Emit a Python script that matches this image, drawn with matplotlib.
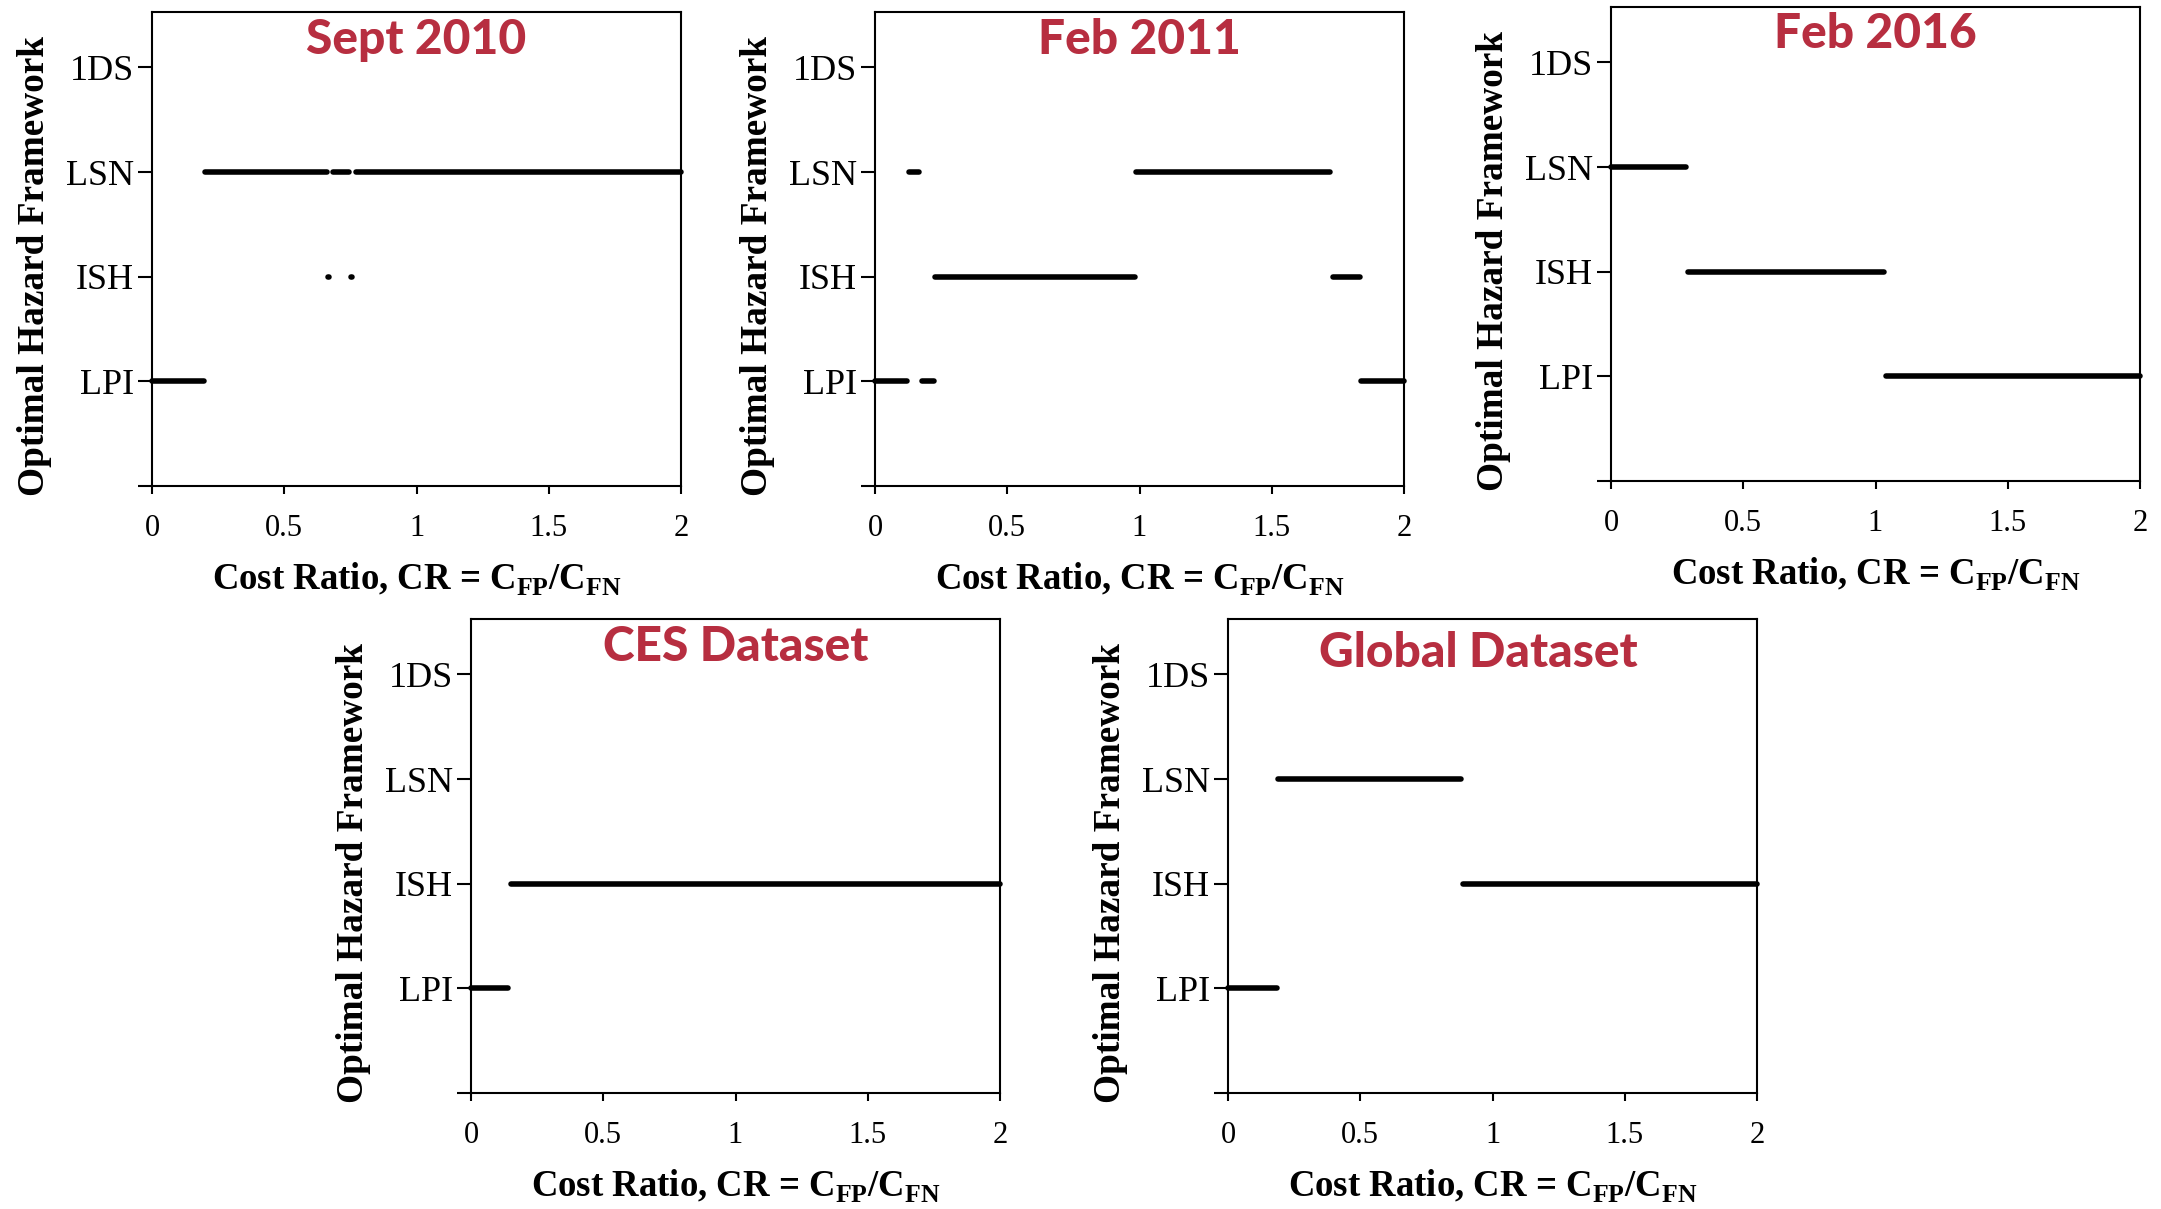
import matplotlib
matplotlib.use("Agg")
import matplotlib.pyplot as plt

# ---------------- data ----------------
categories = ["LPI", "ISH", "LSN", "1DS"]
panel_titles = ["Sept 2010", "Feb 2011", "Feb 2016", "CES Dataset", "Global Dataset"]
x_ticks = [0, 0.5, 1, 1.5, 2]
x_tick_labels = ["0", "0.5", "1", "1.5", "2"]

# segments (start, end) of CR over which each framework is optimal
sept2010_LPI = [(0.0, 0.197)]
sept2010_ISH = [(0.667, 0.671), (0.754, 0.758)]
sept2010_LSN = [(0.20, 0.66), (0.683, 0.744), (0.77, 2.0)]
sept2010_1DS = []

feb2011_LPI = [(0.0, 0.122), (0.179, 0.223), (1.838, 2.0)]
feb2011_ISH = [(0.226, 0.983), (1.73, 1.835)]
feb2011_LSN = [(0.127, 0.165), (0.988, 1.722)]
feb2011_1DS = []

feb2016_LPI = [(1.039, 2.0)]
feb2016_ISH = [(0.29, 1.034)]
feb2016_LSN = [(0.0, 0.282)]
feb2016_1DS = []

ces_LPI = [(0.0, 0.141)]
ces_ISH = [(0.15, 2.0)]
ces_LSN = []
ces_1DS = []

global_LPI = [(0.0, 0.185)]
global_ISH = [(0.89, 2.0)]
global_LSN = [(0.19, 0.88)]
global_1DS = []

panel_data = [
    [sept2010_LPI, sept2010_ISH, sept2010_LSN, sept2010_1DS],
    [feb2011_LPI, feb2011_ISH, feb2011_LSN, feb2011_1DS],
    [feb2016_LPI, feb2016_ISH, feb2016_LSN, feb2016_1DS],
    [ces_LPI, ces_ISH, ces_LSN, ces_1DS],
    [global_LPI, global_ISH, global_LSN, global_1DS],
]

# ---------------- layout ----------------
W, H = 2161, 1209
fig = plt.figure(figsize=(W / 100, H / 100), dpi=100)
plt.rcParams["mathtext.fontset"] = "custom"
plt.rcParams["mathtext.rm"] = "Liberation Serif:bold"
plt.rcParams["mathtext.bf"] = "Liberation Serif:bold"

# pixel boxes (left, top, right, bottom)
boxes = [
    (152, 12, 681, 486),
    (875, 12, 1404, 486),
    (1611, 7, 2140, 481),
    (471, 619, 1000, 1093),
    (1228, 619, 1757, 1093),
]
title_pos = [(0.5, 0.94), (0.5, 0.94), (0.5, 0.944), (0.5, 0.94), (0.474, 0.929)]

title_color = "#B72E40"
serif = "Liberation Serif"

for i, (l, t, r, b) in enumerate(boxes):
    ax = fig.add_axes([l / W, 1 - b / H, (r - l) / W, (b - t) / H])
    for k, segs in enumerate(panel_data[i]):
        yv = k + 1
        for (s, e) in segs:
            ax.plot([s, e], [yv, yv], color="black", lw=4,
                    solid_capstyle="round", clip_on=False, zorder=3)
    ax.set_xlim(0, 2)
    ax.set_ylim(0, 4.53)
    ax.set_xticks(x_ticks)
    ax.set_xticklabels(x_tick_labels, fontfamily=serif, fontsize=22)
    ax.set_yticks([0, 1, 2, 3, 4])
    ax.set_yticklabels([""] + categories, fontfamily=serif, fontsize=26)
    ax.tick_params(axis="x", direction="out", length=6, width=1.5, pad=14)
    ax.tick_params(axis="y", direction="out", length=10, width=1.5, pad=3)
    for sp in ax.spines.values():
        sp.set_linewidth(1.5)
    ax.set_xlabel(r"Cost Ratio, CR = C$_{\mathrm{FP}}$/C$_{\mathrm{FN}}$",
                  fontfamily=serif, fontweight="bold", fontsize=26.5, va="center")
    ax.xaxis.set_label_coords(0.5, -0.196)
    ax.set_ylabel("Optimal Hazard Framework", fontfamily=serif,
                  fontweight="bold", fontsize=26.8, va="center")
    ax.yaxis.set_label_coords(-0.222, 0.464)
    tx, ty = title_pos[i]
    ax.text(tx, ty, panel_titles[i], transform=ax.transAxes, ha="center",
            va="center", color=title_color, fontfamily="Lato",
            fontweight="black", fontsize=34.5)

fig.savefig("out.png", dpi=100)
